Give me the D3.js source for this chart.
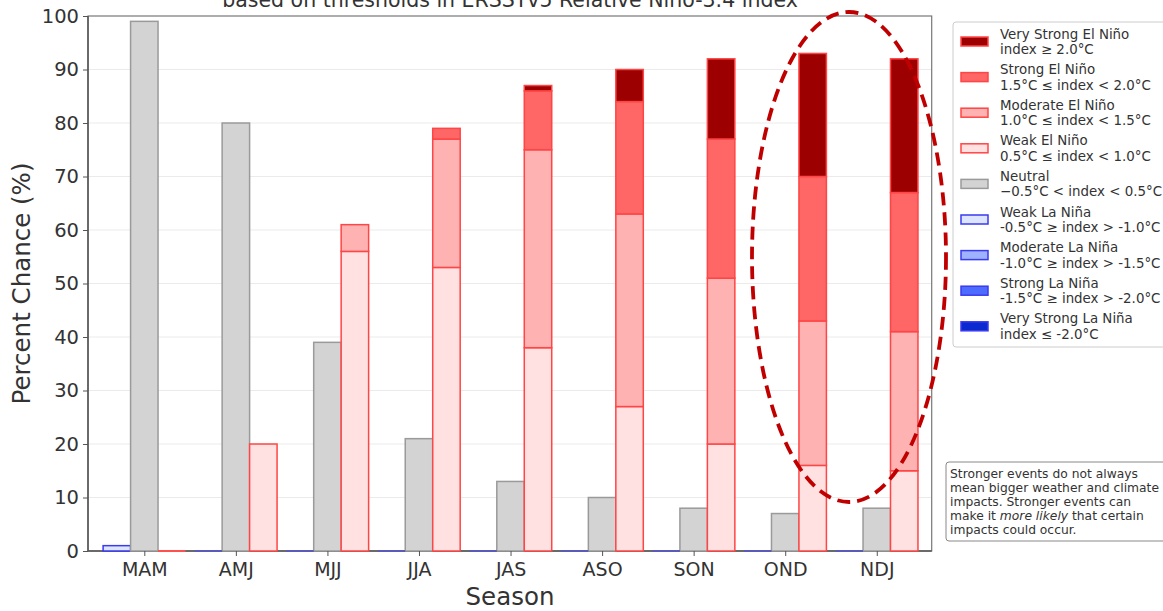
<!DOCTYPE html>
<html><head><meta charset="utf-8">
<script src="https://cdn.jsdelivr.net/npm/d3@7"></script>
<style>body{margin:0;background:#fff;font-family:"DejaVu Sans",sans-serif;}</style>
</head><body><svg id="c" width="1163" height="611"></svg>
<script>
const seasons = ["MAM","AMJ","MJJ","JJA","JAS","ASO","SON","OND","NDJ"];
const neutral = [99,80,39,21,13,10,8,7,8];
const weakNino = [0,20,56,53,38,27,20,16,15];
const modNino = [0,0,5,24,37,36,31,27,26];
const strongNino = [0,0,0,2,11,21,26,27,26];
const vstrongNino = [0,0,0,0,1,6,15,23,25];
const weakNina = [1,0,0,0,0,0,0,0,0];
const modNina = [0,0,0,0,0,0,0,0,0];
const strongNina = [0,0,0,0,0,0,0,0,0];
const vstrongNina = [0,0,0,0,0,0,0,0,0];
const yTicks = [0,10,20,30,40,50,60,70,80,90,100];

const svg = d3.select("#c");
const x = d3.scaleLinear().domain([-0.615, 8.6]).range([88, 931.7]);
const y = d3.scaleLinear().domain([0,100]).range([551,16]);
const bw = x(0.3)-x(0);

// grid
svg.append("g").selectAll("line").data(yTicks.slice(1,-1)).join("line")
  .attr("x1",88).attr("x2",931.7).attr("y1",d=>y(d)).attr("y2",d=>y(d))
  .attr("stroke","#ebebeb").attr("stroke-width",1);

// spines
svg.append("rect").attr("x",88).attr("y",16).attr("width",931.7-88).attr("height",551-16)
  .attr("fill","none").attr("stroke","#777").attr("stroke-width",1.2);
svg.append("line").attr("x1",88).attr("x2",88).attr("y1",16).attr("y2",551).attr("stroke","#555").attr("stroke-width",1.5);
svg.append("line").attr("x1",88).attr("x2",931.7).attr("y1",551).attr("y2",551).attr("stroke","#555").attr("stroke-width",1.5);

function stack(series, colors, edge, offset){
  const g = svg.append("g");
  seasons.forEach((s,i)=>{
    let base = 0;
    series.forEach((arr,k)=>{
      const v = arr[i];
      g.append("rect").attr("x", x(i+offset)-bw/2).attr("width", bw)
        .attr("y", y(base+v)).attr("height", y(base)-y(base+v))
        .attr("fill", colors[k]).attr("stroke", edge).attr("stroke-width",1.5);
      base += v;
    });
  });
}
stack([weakNina,modNina,strongNina,vstrongNina],["#dce4ff","#9fb2ff","#4d6cff","#0a2ad0"],"#3a3af0",-0.3);
stack([neutral],["#d3d3d3"],"#9a9a9a",0);
stack([weakNino,modNino,strongNino,vstrongNino],["#ffe1e1","#ffb2b2","#ff6666","#9c0000"],"#ff4545",0.3);

// zero-height bar edges over the axis line
const totNina = seasons.map((s,i)=>weakNina[i]+modNina[i]+strongNina[i]+vstrongNina[i]);
const totNino = seasons.map((s,i)=>weakNino[i]+modNino[i]+strongNino[i]+vstrongNino[i]);
seasons.forEach((s,i)=>{
  if(totNina[i]===0) svg.append("line").attr("x1",x(i-0.3)-bw/2).attr("x2",x(i-0.3)+bw/2)
    .attr("y1",y(0)).attr("y2",y(0)).attr("stroke","#5a5ab8").attr("stroke-width",2);
  if(totNino[i]===0) svg.append("line").attr("x1",x(i+0.3)-bw/2).attr("x2",x(i+0.3)+bw/2)
    .attr("y1",y(0)).attr("y2",y(0)).attr("stroke","#ff5050").attr("stroke-width",2);
});

// axes
const yAxis = d3.axisLeft(y).tickValues(yTicks).tickSize(5).tickPadding(4);
const ya = svg.append("g").attr("transform","translate(88,0)").call(yAxis);
ya.select(".domain").remove();
ya.selectAll("text").attr("font-size",19.5).attr("fill","#333").attr("font-family","DejaVu Sans");
ya.selectAll("line").attr("stroke","#555");
const xAxis = d3.axisBottom(x).tickValues(d3.range(9)).tickFormat(i=>seasons[i]).tickSize(5).tickPadding(7);
const xa = svg.append("g").attr("transform","translate(0,551)").call(xAxis);
xa.select(".domain").remove();
xa.selectAll("text").attr("font-size",19).attr("fill","#333").attr("font-family","DejaVu Sans");
xa.selectAll("line").attr("stroke","#555");

// labels
svg.append("text").attr("x",510).attr("y",7).attr("text-anchor","middle").attr("font-size",20.5).attr("fill","#333")
  .text("based on thresholds in ERSSTv5 Relative Niño-3.4 index");
svg.append("text").attr("x",510).attr("y",605).attr("text-anchor","middle").attr("font-size",24.5).attr("fill","#333").text("Season");
svg.append("text").attr("transform","translate(30,283.5) rotate(-90)").attr("text-anchor","middle").attr("font-size",24.5).attr("fill","#333").text("Percent Chance (%)");

// legend
const legItems = [
  ["Very Strong El Niño","index ≥ 2.0°C","#9c0000","#ff4545"],
  ["Strong El Niño","1.5°C ≤ index < 2.0°C","#ff6666","#ff4545"],
  ["Moderate El Niño","1.0°C ≤ index < 1.5°C","#ffb2b2","#ff4545"],
  ["Weak El Niño","0.5°C ≤ index < 1.0°C","#ffe1e1","#ff4545"],
  ["Neutral","−0.5°C < index < 0.5°C","#d3d3d3","#9a9a9a"],
  ["Weak La Niña","-0.5°C ≥ index > -1.0°C","#dce4ff","#3a3af0"],
  ["Moderate La Niña","-1.0°C ≥ index > -1.5°C","#9fb2ff","#3a3af0"],
  ["Strong La Niña","-1.5°C ≥ index > -2.0°C","#4d6cff","#3a3af0"],
  ["Very Strong La Niña","index ≤ -2.0°C","#0a2ad0","#3a3af0"]
];
const lg = svg.append("g");
lg.append("rect").attr("x",953).attr("y",22).attr("width",230).attr("height",325).attr("rx",3)
  .attr("fill","#fff").attr("stroke","#ccc");
legItems.forEach((it,i)=>{
  const yy = 34 + i*35.6;
  lg.append("rect").attr("x",961).attr("y",yy+3).attr("width",27).attr("height",9)
    .attr("fill",it[2]).attr("stroke",it[3]).attr("stroke-width",1.5);
  lg.append("text").attr("x",1000).attr("y",yy+4.5).attr("font-size",13.4).attr("fill","#333").text(it[0]);
  lg.append("text").attr("x",1000).attr("y",yy+20).attr("font-size",13.4).attr("fill","#333").text(it[1]);
});

// note box
const nb = svg.append("g");
nb.append("rect").attr("x",946).attr("y",462).attr("width",230).attr("height",79).attr("rx",3)
  .attr("fill","#fff").attr("stroke","#888");
const lines = ["Stronger events do not always","mean bigger weather and climate","impacts. Stronger events can",null,"impacts could occur."];
lines.forEach((l,i)=>{
  const t = nb.append("text").attr("x",950).attr("y",477.5+i*14).attr("font-size",12.3).attr("fill","#333");
  if(l===null){
    t.append("tspan").text("make it ");
    t.append("tspan").attr("font-style","italic").text("more likely");
    t.append("tspan").text(" that certain");
  } else t.text(l);
});

// dashed ellipse
svg.append("ellipse").attr("cx",849).attr("cy",257).attr("rx",97).attr("ry",245)
  .attr("fill","none").attr("stroke","#c00000").attr("stroke-width",3.8).attr("stroke-dasharray","13,7");
</script></body></html>
